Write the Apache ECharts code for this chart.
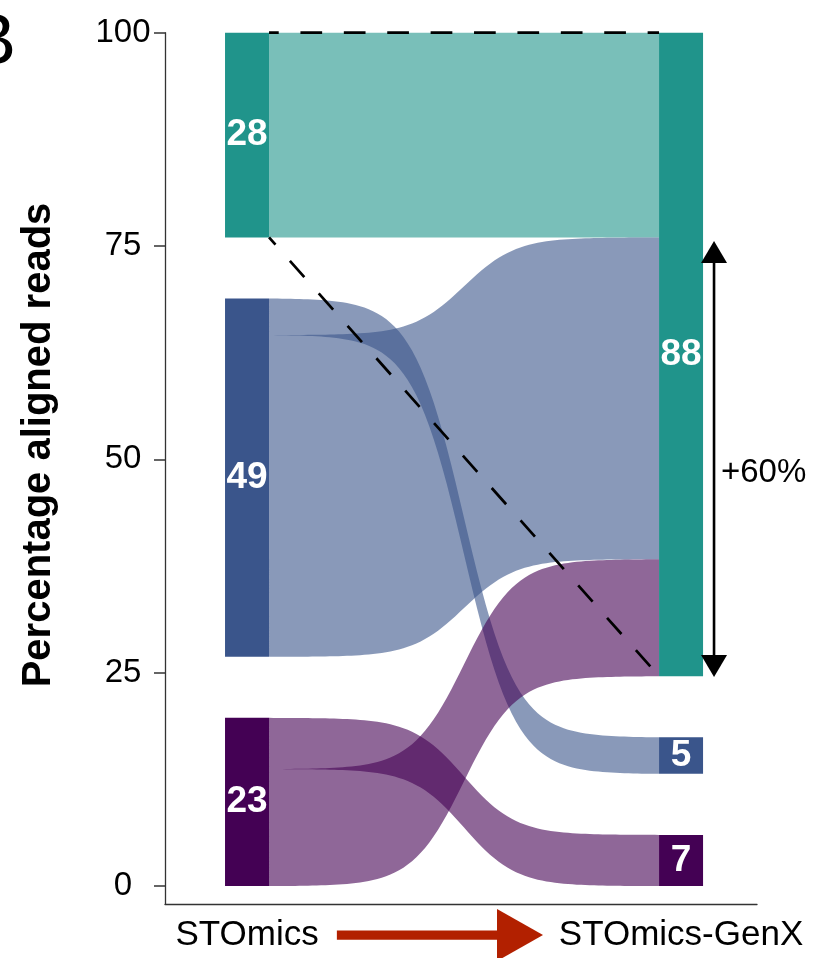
<!DOCTYPE html>
<html>
<head>
<meta charset="utf-8">
<script src="https://cdn.jsdelivr.net/npm/echarts@6/dist/echarts.min.js"></script>
<style>
  html, body { margin: 0; padding: 0; background: #ffffff; }
  #chart { width: 818px; height: 958px; }
</style>
</head>
<body>
<div id="chart"></div>
<script>
// ---- data ----
const stages = ['STOmics', 'STOmics-GenX'];
const strataColors = ['#20948B', '#3A558B', '#440154'];
const leftShares = [28, 49, 23];      // STOmics strata, top to bottom
const rightShares = [88, 5, 7];       // STOmics-GenX strata, top to bottom
const flowSource = [0, 1, 1, 2, 2];
const flowTarget = [0, 0, 1, 0, 2];
const flowShare = [28, 44, 5, 16, 7];
const yTicks = [0, 25, 50, 75, 100];
const gainArrow = [75.6, 24.5];       // ends of the double arrow (y units)
const gainLabelY = 48.4;

// ---- layout helpers ----
const FONT = '"Liberation Sans", Arial, Helvetica, sans-serif';
const GAP = 7.15;
const SCALE = (100 - GAP * (leftShares.length - 1)) / 100;
const STAGE_X = [1, 2];
const HALF_W = 0.0507;
const CURVE_STEEP = 15;

function stack(shares) {
  const out = [];
  let top = 100;
  shares.forEach(v => {
    const bottom = top - v * SCALE;
    out.push({ top, bottom, value: v });
    top = bottom - GAP;
  });
  return out;
}
const leftNodes = stack(leftShares);
const rightNodes = stack(rightShares);

// flow ends: at the source, lower destinations sit on top; at the target, sources are in order
const flowGeom = flowShare.map(() => ({}));
leftNodes.forEach((node, s) => {
  let cur = node.top;
  flowShare.map((v, i) => i).filter(i => flowSource[i] === s)
    .sort((a, b) => flowTarget[b] - flowTarget[a])
    .forEach(i => {
      flowGeom[i].y0t = cur; cur -= flowShare[i] * SCALE; flowGeom[i].y0b = cur;
    });
});
rightNodes.forEach((node, t) => {
  let cur = node.top;
  flowShare.map((v, i) => i).filter(i => flowTarget[i] === t)
    .sort((a, b) => flowSource[a] - flowSource[b])
    .forEach(i => {
      flowGeom[i].y1t = cur; cur -= flowShare[i] * SCALE; flowGeom[i].y1b = cur;
    });
});

function logistic(t) { return 1 / (1 + Math.exp(-CURVE_STEEP * (t - 0.5))); }
const L0 = logistic(0), L1 = logistic(1);
function ease(t) { return (logistic(t) - L0) / (L1 - L0); }

function renderFlow(params, api) {
  const i = params.dataIndex;
  const g = flowGeom[i];
  const xa = STAGE_X[0] + HALF_W, xb = STAGE_X[1] - HALF_W;
  const N = 90;
  const pts = [];
  for (let k = 0; k <= N; k++) {
    const t = k / N, f = ease(t);
    pts.push(api.coord([xa + t * (xb - xa), g.y0t + f * (g.y1t - g.y0t)]));
  }
  for (let k = N; k >= 0; k--) {
    const t = k / N, f = ease(t);
    pts.push(api.coord([xa + t * (xb - xa), g.y0b + f * (g.y1b - g.y0b)]));
  }
  return {
    type: 'polygon',
    shape: { points: pts },
    style: { fill: strataColors[flowSource[i]], opacity: 0.6 }
  };
}

const nodeItems = [];
leftNodes.forEach((n, k) => nodeItems.push([0, k]));
rightNodes.forEach((n, k) => nodeItems.push([1, k]));

function renderNode(params, api) {
  const [stage, k] = nodeItems[params.dataIndex];
  const n = stage === 0 ? leftNodes[k] : rightNodes[k];
  const x = STAGE_X[stage];
  const p0 = api.coord([x - HALF_W, n.top]);
  const p1 = api.coord([x + HALF_W, n.bottom]);
  const c = api.coord([x, (n.top + n.bottom) / 2]);
  return {
    type: 'group',
    children: [
      { type: 'rect', shape: { x: p0[0], y: p0[1], width: p1[0] - p0[0], height: p1[1] - p0[1] },
        style: { fill: strataColors[k] } },
      { type: 'text', x: c[0], y: c[1],
        style: { text: String(n.value), fill: '#ffffff', font: 'bold 37px ' + FONT,
                 align: 'center', verticalAlign: 'middle' } }
    ]
  };
}

function renderNotes(params, api) {
  const xa = STAGE_X[0] + HALF_W, xb = STAGE_X[1] - HALF_W;
  const dash = { stroke: '#000000', lineWidth: 2.7, lineDash: [21.7, 21.7], lineDashOffset: 12 };
  const h0 = api.coord([xa, 100]), h1 = api.coord([xb, 100]);
  const d0 = api.coord([xa, leftNodes[0].bottom]), d1 = api.coord([xb, rightNodes[0].bottom]);

  // double-headed arrow showing the gain of the top stratum
  const ax = 2.076;
  const aTop = api.coord([ax, gainArrow[0]]), aBot = api.coord([ax, gainArrow[1]]);
  const headL = 22, headW = 13;
  const lbl = api.coord([2.092, gainLabelY]);

  // direction arrow between the stage names
  const ry = -5.74;
  const r0 = api.coord([1.207, ry]), rBase = api.coord([1.576, ry]), rTip = api.coord([1.682, ry]);

  return {
    type: 'group',
    children: [
      { type: 'line', shape: { x1: h0[0], y1: h0[1], x2: h1[0], y2: h1[1] }, style: dash },
      { type: 'line', shape: { x1: d0[0], y1: d0[1], x2: d1[0], y2: d1[1] }, style: dash },
      { type: 'line', shape: { x1: aTop[0], y1: aTop[1] + headL - 2, x2: aBot[0], y2: aBot[1] - headL + 2 },
        style: { stroke: '#000000', lineWidth: 2.6 } },
      { type: 'polygon', shape: { points: [[aTop[0], aTop[1]], [aTop[0] - headW, aTop[1] + headL], [aTop[0] + headW, aTop[1] + headL]] },
        style: { fill: '#000000' } },
      { type: 'polygon', shape: { points: [[aBot[0], aBot[1]], [aBot[0] - headW, aBot[1] - headL], [aBot[0] + headW, aBot[1] - headL]] },
        style: { fill: '#000000' } },
      { type: 'text', x: lbl[0], y: lbl[1],
        style: { text: '+' + (rightShares[0] - leftShares[0]) + '%', fill: '#000000', font: '33px ' + FONT,
                 align: 'left', verticalAlign: 'middle' } },
      { type: 'rect', shape: { x: r0[0], y: r0[1] - 4.6, width: rBase[0] - r0[0] + 1, height: 9.3 },
        style: { fill: '#B22000' } },
      { type: 'polygon', shape: { points: [[rBase[0], rBase[1] - 26], [rTip[0], rTip[1]], [rBase[0], rBase[1] + 26]] },
        style: { fill: '#B22000' } }
    ]
  };
}

const chart = echarts.init(document.getElementById('chart'), null, { renderer: 'canvas' });
chart.setOption({
  backgroundColor: '#ffffff',
  animation: false,
  grid: { left: 165, right: 61, top: 32.7, bottom: 54, containLabel: false },
  xAxis: {
    type: 'value', min: 0.811, max: 2.175,
    splitLine: { show: false },
    axisLine: { show: true, onZero: false, lineStyle: { color: '#333333', width: 1.3 } },
    axisTick: { show: false },
    axisLabel: {
      customValues: [1, 2],
      formatter: v => stages[Math.round(v) - 1],
      fontSize: 35, fontFamily: FONT, color: '#000000', margin: 14
    }
  },
  yAxis: {
    type: 'value', min: -2.1, max: 100,
    splitLine: { show: false },
    axisLine: { show: true, onZero: false, lineStyle: { color: '#333333', width: 1.3 } },
    axisTick: { show: true, customValues: yTicks, length: 11, lineStyle: { color: '#333333', width: 1.5 } },
    axisLabel: {
      customValues: yTicks,
      fontSize: 33, fontFamily: FONT, color: '#000000', align: 'center', margin: 42
    }
  },
  graphic: [
    { type: 'text', x: 39, y: 445, rotation: Math.PI / 2,
      style: { text: 'Percentage aligned reads', font: 'bold 40px ' + FONT, fill: '#000000',
               align: 'center', verticalAlign: 'middle' } },
    { type: 'text', x: 16, y: 44,
      style: { text: 'B', font: '72px ' + FONT, fill: '#000000', align: 'right', verticalAlign: 'middle' } }
  ],
  series: [
    { type: 'custom', name: 'flows', clip: false, renderItem: renderFlow,
      data: flowShare.map((v, i) => [1.5, i]) },
    { type: 'custom', name: 'strata', clip: false, renderItem: renderNode,
      data: nodeItems.map((d, i) => [STAGE_X[d[0]], i]) },
    { type: 'custom', name: 'notes', clip: false, renderItem: renderNotes,
      data: [[1.5, 50]] }
  ]
});
</script>
</body>
</html>
